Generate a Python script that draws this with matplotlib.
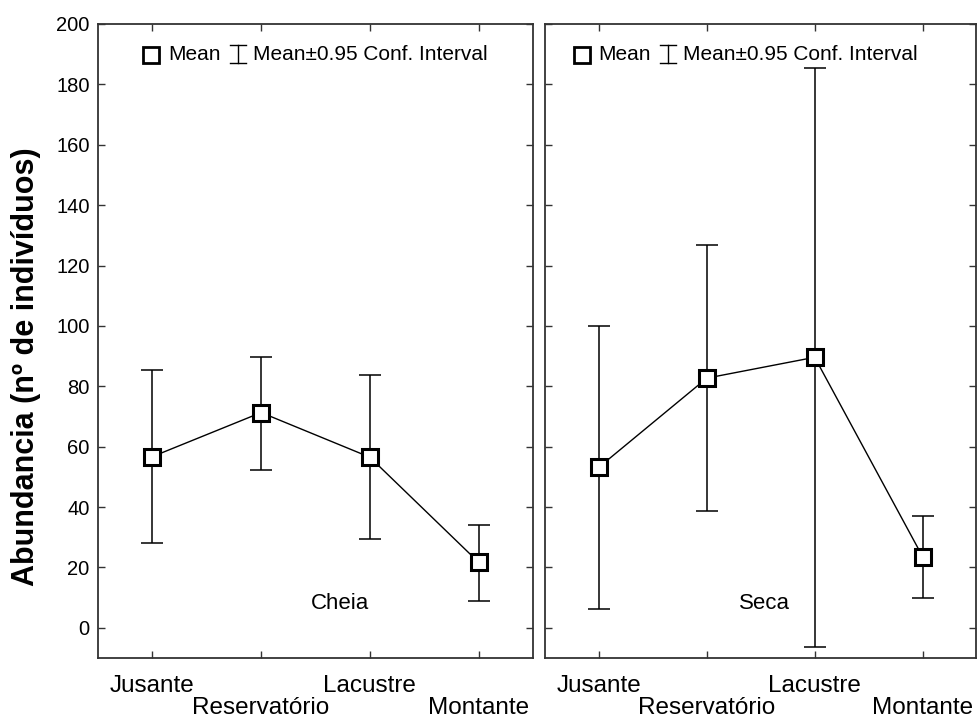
import matplotlib
matplotlib.use("Agg")
import matplotlib.pyplot as plt
import numpy as np

plt.rcParams['font.family'] = ['Liberation Sans', 'DejaVu Sans']

categories = ["Jusante", "Reservatório", "Lacustre", "Montante"]
cheia_mean = [56.7, 71.3, 56.5, 21.7]
cheia_low = [28.2, 52.3, 29.4, 9.0]
cheia_high = [85.4, 89.8, 83.8, 34.1]
seca_mean = [53.2, 82.7, 89.6, 23.6]
seca_low = [6.3, 38.7, -6.4, 10.0]
seca_high = [100.1, 126.8, 185.3, 36.9]
yticks = [0, 20, 40, 60, 80, 100, 120, 140, 160, 180, 200]
panel_labels = ["Cheia", "Seca"]
ylabel = "Abundancia (nº de indivíduos)"
legend_mean = "Mean"
legend_ci = "Mean±0.95 Conf. Interval"

fig = plt.figure(figsize=(9.78, 7.22), dpi=100)
ax1 = fig.add_axes([98/978, 64/722, 435/978, 634/722])
ax2 = fig.add_axes([545/978, 64/722, 431.5/978, 634/722])

spine_col = '#333333'
xlabels = [c if i % 2 == 0 else "\n" + c for i, c in enumerate(categories)]

def draw(ax, mean, low, high, label, lab_x, leg_x0, show_y):
    x = np.arange(len(mean))
    mean = np.array(mean); low = np.array(low); high = np.array(high)
    ax.errorbar(x, mean, yerr=[mean - low, high - mean], fmt='none',
                ecolor='black', elinewidth=1.1, capsize=8, capthick=1.1, zorder=2)
    ax.plot(x, mean, color='black', lw=1.0, zorder=3)
    ax.plot(x, mean, ls='none', marker='s', markersize=11.5, mfc='white',
            mec='black', mew=2.2, zorder=4)
    ax.set_xlim(-0.5, 3.5)
    ax.set_ylim(-10, 200)
    ax.set_yticks(yticks)
    ax.set_xticks(x)
    ax.set_xticklabels(xlabels, fontsize=17.5, linespacing=1.0)
    if not show_y:
        ax.set_yticklabels([])
    ax.tick_params(axis='both', which='both', direction='in', length=5,
                   width=1.0, color=spine_col, top=True, right=True)
    ax.tick_params(axis='y', labelsize=14.5, pad=6)
    ax.tick_params(axis='x', pad=12)
    for s in ax.spines.values():
        s.set_color(spine_col)
        s.set_linewidth(1.3)
    ax.text(lab_x, 8.2, label, fontsize=16, ha='center', va='center')
    # legend drawn in axes coordinates
    w = 435.0
    h = 634.0
    fx = lambda px: (px) / w
    fy = lambda py: 1 - (py - 24) / h
    ax.plot([fx(leg_x0 + 8)], [fy(55)], transform=ax.transAxes, marker='s',
            markersize=11, mfc='white', mec='black', mew=2.0, ls='none', clip_on=False)
    ax.text(fx(leg_x0 + 25), fy(55), legend_mean, transform=ax.transAxes,
            fontsize=15, ha='left', va='center')
    ix = fx(leg_x0 + 95)
    ax.plot([ix, ix], [fy(45), fy(63)], transform=ax.transAxes, color='black', lw=1.0)
    ax.plot([fx(leg_x0 + 87), fx(leg_x0 + 103)], [fy(45), fy(45)], transform=ax.transAxes, color='black', lw=1.0)
    ax.plot([fx(leg_x0 + 87), fx(leg_x0 + 103)], [fy(63), fy(63)], transform=ax.transAxes, color='black', lw=1.0)
    ax.text(fx(leg_x0 + 110), fy(55), legend_ci, transform=ax.transAxes,
            fontsize=15, ha='left', va='center')

draw(ax1, cheia_mean, cheia_low, cheia_high, panel_labels[0], 1.725, 45, True)
draw(ax2, seca_mean, seca_low, seca_high, panel_labels[1], 1.532, 29, False)

ax1.set_ylabel(ylabel, fontsize=22, fontweight='bold')
ax1.yaxis.set_label_coords(-0.13, 1 - (367 - 24) / 634)

fig.savefig("out.png", dpi=100, facecolor='white')
